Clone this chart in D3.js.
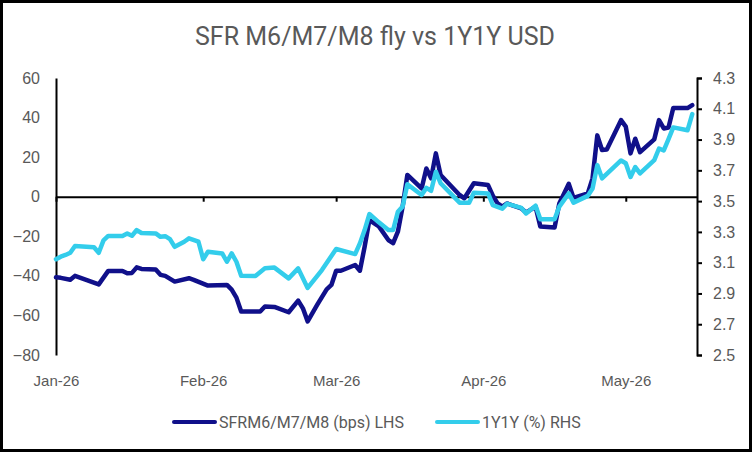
<!DOCTYPE html>
<html>
<head>
<meta charset="utf-8">
<script src="https://cdn.jsdelivr.net/npm/d3@7"></script>
<style>
	body{margin:0;padding:0;background:#ffffff;}
	#chartwrap{width:752px;height:452px;}
</style>
</head>
<body>
<div id="chartwrap"></div>
<script>
//data
//SFR M6/M7/M8 fly, bps (left axis)
var flyDates = ["2026-01-01","2026-01-02","2026-01-04","2026-01-05","2026-01-10","2026-01-12","2026-01-15","2026-01-16",
	"2026-01-17","2026-01-18","2026-01-19","2026-01-22","2026-01-23","2026-01-24","2026-01-26","2026-01-29","2026-01-30",
	"2026-02-02","2026-02-06","2026-02-07","2026-02-08","2026-02-09","2026-02-13","2026-02-14","2026-02-16","2026-02-19",
	"2026-02-21","2026-02-22","2026-02-23","2026-02-25","2026-02-27","2026-02-28","2026-03-01","2026-03-02","2026-03-05",
	"2026-03-06","2026-03-07","2026-03-08","2026-03-10","2026-03-12","2026-03-13","2026-03-14","2026-03-15","2026-03-16",
	"2026-03-19","2026-03-20","2026-03-21","2026-03-22","2026-03-23","2026-03-27","2026-03-28","2026-03-30","2026-04-02",
	"2026-04-03","2026-04-04","2026-04-05","2026-04-06","2026-04-09","2026-04-10","2026-04-12","2026-04-13","2026-04-16",
	"2026-04-17","2026-04-19","2026-04-20","2026-04-23","2026-04-24","2026-04-25","2026-04-26","2026-04-27","2026-04-30",
	"2026-05-01","2026-05-02","2026-05-03","2026-05-04","2026-05-07","2026-05-08","2026-05-09","2026-05-10","2026-05-11",
	"2026-05-14","2026-05-15"];
var flyBps = [-40.7,-41,-42,-40,-44.3,-37.5,-37.5,-38.7,
	-38.5,-35.7,-36.5,-36.8,-39.5,-40,-42.9,-41.2,-42,
	-44.9,-44.6,-47,-51,-58,-58,-55.5,-55.7,-58.4,
	-52.5,-56.4,-63,-54.7,-46.8,-44.6,-37.4,-37.4,-34.5,
	-37.4,-25.3,-11.8,-15,-21.9,-23.5,-17.7,-5,11,
	4.2,14.3,9.3,21.9,11,0.9,-0.8,6.8,5.9,
	0.5,-3.4,-5,-3.4,-5.9,-8,-5,-15,-15.6,
	-3.4,6.5,-0.6,1.7,9.3,31,23.6,23.9,38.7,
	35.4,21.9,29.3,22.5,29,38.7,34.5,35,44.8,
	44.8,46.3];

//1Y1Y USD, % (right axis)
var rateDates = ["2026-01-01","2026-01-02","2026-01-03","2026-01-04","2026-01-05","2026-01-09","2026-01-10","2026-01-11",
	"2026-01-12","2026-01-15","2026-01-16","2026-01-17","2026-01-18","2026-01-19","2026-01-22","2026-01-23","2026-01-24",
	"2026-01-25","2026-01-26","2026-01-28","2026-01-29","2026-01-31","2026-02-01","2026-02-02","2026-02-05","2026-02-06",
	"2026-02-07","2026-02-08","2026-02-09","2026-02-12","2026-02-14","2026-02-16","2026-02-19","2026-02-21","2026-02-23",
	"2026-02-26","2026-03-01","2026-03-05","2026-03-06","2026-03-07","2026-03-08","2026-03-10","2026-03-12","2026-03-13",
	"2026-03-14","2026-03-15","2026-03-16","2026-03-19","2026-03-20","2026-03-21","2026-03-22","2026-03-23","2026-03-27",
	"2026-03-29","2026-03-30","2026-04-02","2026-04-03","2026-04-05","2026-04-06","2026-04-09","2026-04-10","2026-04-12",
	"2026-04-13","2026-04-16","2026-04-17","2026-04-19","2026-04-20","2026-04-23","2026-04-24","2026-04-25","2026-04-26",
	"2026-04-30","2026-05-01","2026-05-02","2026-05-03","2026-05-04","2026-05-07","2026-05-08","2026-05-09","2026-05-10",
	"2026-05-11","2026-05-14","2026-05-15"];
var ratePct = [3.122,3.139,3.150,3.164,3.208,3.200,3.164,3.245,
	3.274,3.274,3.290,3.275,3.312,3.293,3.290,3.268,3.272,
	3.253,3.203,3.236,3.258,3.236,3.122,3.171,3.160,3.106,
	3.160,3.106,3.015,3.014,3.063,3.068,2.998,3.063,2.936,
	3.052,3.189,3.156,3.225,3.312,3.416,3.362,3.312,3.312,
	3.431,3.464,3.610,3.540,3.586,3.567,3.691,3.616,3.490,
	3.490,3.554,3.550,3.474,3.451,3.483,3.456,3.420,3.470,
	3.382,3.382,3.464,3.550,3.490,3.534,3.582,3.734,3.648,
	3.764,3.746,3.657,3.721,3.680,3.766,3.842,3.829,3.902,
	3.979,3.960,4.065];

//axis tick labels
var leftTicks = [-80,-60,-40,-20,0,20,40,60];
var rightTicks = [2.5,2.7,2.9,3.1,3.3,3.5,3.7,3.9,4.1,4.3];
var monthTicks = ["2026-01-01","2026-02-01","2026-03-01","2026-04-01","2026-05-01"];

//series names for legend
var seriesNames = ["SFRM6/M7/M8 (bps) LHS","1Y1Y (%) RHS"];

(function(){

	var W = 752, H = 452;
	var plot = {left:56, right:697, top:78, bottom:355};
	var col = {fly:"#10108a", rate:"#33cdeb", text:"#595959", axis:"#000000"};
	var parse = d3.timeParse("%Y-%m-%d");

	var svg = d3.select("#chartwrap").append("svg")
		.attr("width", W).attr("height", H)
		.style("font-family", "Roboto, 'Liberation Sans', sans-serif");

	//outer frame
	svg.append("rect").attr("x",1.5).attr("y",1.5).attr("width",W-3).attr("height",H-3)
		.attr("fill","#ffffff").attr("stroke","#000000").attr("stroke-width",3);

	//title
	svg.append("text").attr("x",375).attr("y",45).attr("text-anchor","middle")
		.style("font-size","25px").style("fill",col.text)
		.text("SFR M6/M7/M8 fly vs 1Y1Y USD");

	//scales
	var x = d3.scaleTime().domain([parse("2026-01-01"), parse("2026-05-16")]).range([plot.left, plot.right]);
	var yL = d3.scaleLinear().domain([-80,60]).range([plot.bottom, plot.top]);
	var yR = d3.scaleLinear().domain([2.5,4.3]).range([plot.bottom, plot.top]);

	//left axis
	var gl = svg.append("g").attr("transform","translate("+plot.left+",0)")
		.call(d3.axisLeft(yL).tickValues(leftTicks).tickSize(0).tickPadding(16));
	gl.select(".domain").attr("stroke",col.axis).attr("stroke-width",2);
	gl.selectAll("text").style("font-size","16px").style("fill",col.text).style("font-family","'Liberation Sans', Arial, sans-serif");

	//right axis
	var gr = svg.append("g").attr("transform","translate("+plot.right+",0)")
		.call(d3.axisRight(yR).tickValues(rightTicks).tickFormat(d3.format(".1f")).tickSizeInner(5).tickSizeOuter(5).tickPadding(11));
	gr.select(".domain").attr("stroke",col.axis).attr("stroke-width",2);
	gr.selectAll("line").attr("stroke",col.axis).attr("stroke-width",2);
	gr.selectAll("text").style("font-size","16px").style("fill",col.text).style("font-family","'Liberation Sans', Arial, sans-serif");

	//x axis line sits at zero on the left scale
	var mt = monthTicks.map(parse);
	var gx = svg.append("g").attr("transform","translate(0,"+yL(0)+")")
		.call(d3.axisBottom(x).tickValues(mt).tickFormat("").tickSizeInner(5).tickSizeOuter(0));
	gx.select(".domain").attr("stroke",col.axis).attr("stroke-width",2);
	gx.selectAll("line").attr("stroke",col.axis).attr("stroke-width",2);

	//month labels under the plot
	var gxl = svg.append("g").attr("transform","translate(0,372)")
		.call(d3.axisBottom(x).tickValues(mt).tickFormat(d3.timeFormat("%b-%y")).tickSize(0));
	gxl.select(".domain").remove();
	gxl.selectAll("text").style("font-size","15px").style("fill",col.text);

	//lines
	var flyPts = flyDates.map(function(d,i){return [parse(d), flyBps[i]];});
	var ratePts = rateDates.map(function(d,i){return [parse(d), ratePct[i]];});

	var lineL = d3.line().x(function(d){return x(d[0]);}).y(function(d){return yL(d[1]);});
	var lineR = d3.line().x(function(d){return x(d[0]);}).y(function(d){return yR(d[1]);});

	svg.append("path").datum(flyPts).attr("d",lineL)
		.attr("fill","none").attr("stroke",col.fly).attr("stroke-width",4.5)
		.attr("stroke-linejoin","round").attr("stroke-linecap","round");
	svg.append("path").datum(ratePts).attr("d",lineR)
		.attr("fill","none").attr("stroke",col.rate).attr("stroke-width",4.5)
		.attr("stroke-linejoin","round").attr("stroke-linecap","round");

	//legend
	var leg = svg.append("g");
	var legItems = [{x:174, c:col.fly}, {x:437, c:col.rate}];
	legItems.forEach(function(it,i){
		leg.append("line").attr("x1",it.x).attr("x2",it.x+41).attr("y1",422).attr("y2",422)
			.attr("stroke",it.c).attr("stroke-width",4).attr("stroke-linecap","round");
		leg.append("text").attr("x",it.x+45).attr("y",422).attr("dy","0.36em")
			.style("font-size","16px").style("fill",col.text).text(seriesNames[i]);
	});

})(); //end of closure
</script>
</body>
</html>
